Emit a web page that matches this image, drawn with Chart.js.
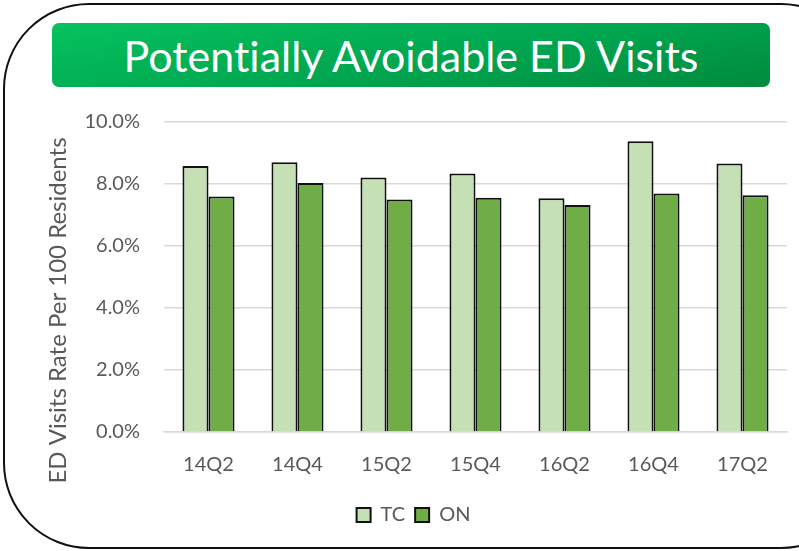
<!DOCTYPE html>
<html>
<head>
<meta charset="utf-8">
<script src="https://cdn.jsdelivr.net/npm/chart.js@4/dist/chart.umd.min.js"></script>
<style>
  html, body { margin: 0; padding: 0; width: 799px; height: 551px; overflow: hidden; background: #fff; }
  #frame {
    position: absolute; left: 3px; top: 3px; width: 860px; height: 542px;
    border: 2px solid #111; border-radius: 86px; box-sizing: content-box;
  }
  #banner {
    position: absolute; left: 52px; top: 23px; width: 718px; height: 64px;
    border-radius: 7px;
    background: linear-gradient(170deg, #06c25e 0%, #00a650 55%, #008a3e 100%);
    color: #fff; font-family: Lato, "Open Sans", sans-serif; font-size: 43px;
    font-variant-ligatures: none;
    display: flex; align-items: center; justify-content: center;
  }
  #wrap { position: absolute; left: 0; top: 0; width: 799px; height: 551px; }
</style>
</head>
<body>
<div id="frame"></div>
<div id="banner">Potentially Avoidable ED Visits</div>
<div id="wrap"><canvas id="chart" width="799" height="551"></canvas></div>
<script>
// Quarterly rates of potentially avoidable ED visits (per 100 residents, %)
const quarters = ["14Q2", "14Q4", "15Q2", "15Q4", "16Q2", "16Q4", "17Q2"];
const tcRates = [8.58, 8.70, 8.21, 8.34, 7.54, 9.38, 8.66];
const onRates = [7.60, 8.03, 7.50, 7.56, 7.32, 7.69, 7.64];
const yTicks = [0, 2, 4, 6, 8, 10];
const yAxisTitle = "ED Visits Rate Per 100 Residents";

const labelColor = "#595959";
const fontFamily = "Lato, 'Open Sans', sans-serif";

// Vertical axis title, centred on the whole block (plot + category labels)
const sideTitle = {
  id: "sideTitle",
  afterDraw(chart) {
    const { ctx, chartArea } = chart;
    const xScale = chart.scales.x;
    const cy = (chartArea.top + xScale.bottom) / 2 + 2;
    ctx.save();
    ctx.translate(58, cy);
    ctx.rotate(-Math.PI / 2);
    ctx.font = "24px " + fontFamily;
    ctx.fillStyle = labelColor;
    ctx.textAlign = "center";
    ctx.textBaseline = "middle";
    ctx.fillText(yAxisTitle, 0, 0);
    ctx.restore();
  }
};

new Chart(document.getElementById("chart"), {
  type: "bar",
  data: {
    labels: quarters,
    datasets: [
      { label: "TC", data: tcRates, backgroundColor: "#c5e0b4", borderColor: "#111", borderWidth: 2 },
      { label: "ON", data: onRates, backgroundColor: "#70ad47", borderColor: "#111", borderWidth: 2 }
    ]
  },
  plugins: [sideTitle],
  options: {
    responsive: false,
    animation: false,
    layout: { padding: { left: 40, right: 12, top: 122, bottom: 16 } },
    datasets: { bar: { categoryPercentage: 0.585, barPercentage: 1.0 } },
    plugins: {
      title: { display: false },
      tooltip: { enabled: false },
      legend: {
        position: "bottom",
        labels: {
          color: labelColor,
          font: { family: fontFamily, size: 20 },
          boxWidth: 14, boxHeight: 14, padding: 10,
          useBorderRadius: false
        }
      }
    },
    scales: {
      x: {
        afterFit: (scale) => { scale.height = 63; },
        grid: { display: false },
        border: { display: true, color: "#d9d9d9", width: 1.5 },
        ticks: { color: labelColor, font: { family: fontFamily, size: 20 }, padding: 13 }
      },
      y: {
        min: 0, max: 10,
        afterBuildTicks: (scale) => { scale.ticks = yTicks.map(v => ({ value: v })); },
        afterFit: (scale) => { scale.width = 124; },
        grid: { color: "#d9d9d9", lineWidth: 1.5, drawTicks: false },
        border: { display: false },
        ticks: {
          color: labelColor, font: { family: fontFamily, size: 20 }, padding: 24,
          callback: (v) => v.toFixed(1) + "%"
        },
        title: { display: false }
      }
    }
  }
});
</script>
</body>
</html>
